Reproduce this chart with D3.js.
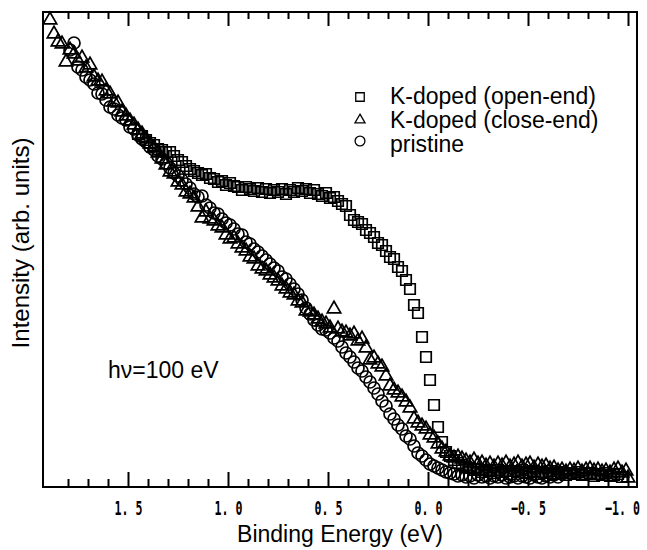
<!DOCTYPE html>
<html>
<head>
<meta charset="utf-8">
<script src="https://cdn.jsdelivr.net/npm/d3@7"></script>
<style>
body { margin: 0; background: #fff; }
svg { display: block; }
</style>
</head>
<body>
<svg id="chart" width="647" height="550"></svg>
<script>
// [binding energy (eV), intensity (arb.)]
var openEnd = [
	[1.45,70.6],[1.43,70.2],[1.41,69.4],[1.39,68.8],[1.37,68.4],[1.35,67.6],[1.33,67.4],[1.31,67.0],
	[1.29,67.0],[1.27,66.2],[1.25,65.4],[1.23,65.0],[1.21,64.2],[1.19,63.6],[1.17,63.2],[1.15,62.8],
	[1.13,62.4],[1.11,62.6],[1.09,61.8],[1.07,61.6],[1.05,61.0],[1.03,61.2],[1.01,60.4],[0.99,60.8],
	[0.97,60.2],[0.95,60.0],[0.93,59.4],[0.91,60.0],[0.89,59.6],[0.87,59.2],[0.85,59.8],[0.83,59.0],
	[0.81,59.6],[0.79,58.8],[0.77,59.4],[0.75,59.0],[0.73,59.6],[0.71,58.6],[0.69,59.4],[0.67,59.0],
	[0.65,59.8],[0.63,59.2],[0.61,59.6],[0.59,58.8],[0.57,59.4],[0.55,58.6],[0.53,58.2],[0.51,58.8],
	[0.49,57.8],[0.47,58.0],[0.45,57.2],[0.43,56.6],[0.41,56.2],[0.39,54.4],[0.37,53.4],[0.35,53.0],
	[0.33,52.6],[0.31,51.4],[0.29,50.8],[0.27,50.0],[0.25,48.8],[0.23,48.4],[0.21,47.2],[0.19,46.0],
	[0.17,45.6],[0.15,44.0],[0.13,43.2],[0.11,41.4],[0.09,39.6],[0.07,36.4],[0.05,34.8],[0.03,30.0],
	[0.01,26.0],[-0.01,21.4],[-0.03,16.4],[-0.05,12.0],[-0.07,9.0],[-0.09,7.0],[-0.11,6.2],[-0.13,5.4],
	[-0.15,4.8],[-0.17,4.4],[-0.19,4.0],[-0.21,3.8],[-0.23,3.4],[-0.25,3.6],[-0.27,3.0],[-0.29,3.4],
	[-0.31,3.2],[-0.33,2.8],[-0.35,3.4],[-0.37,3.0],[-0.39,3.2],[-0.41,2.6],[-0.43,3.2],[-0.45,3.0],
	[-0.47,3.4],[-0.49,2.8],[-0.51,3.0],[-0.53,3.2],[-0.55,2.6],[-0.57,3.0],[-0.59,2.8],[-0.61,3.2],
	[-0.63,2.6],[-0.65,2.8],[-0.67,3.0],[-0.69,2.4],[-0.71,2.8],[-0.73,2.6],[-0.75,3.0],[-0.77,2.4],
	[-0.79,2.6],[-0.81,2.8],[-0.83,2.2],[-0.85,2.6],[-0.87,2.4],[-0.89,2.8],[-0.91,2.2],[-0.93,2.4],
	[-0.95,2.6],[-0.97,2.0]
];

var closeEnd = [
	[1.89,93.4],[1.87,90.6],[1.85,89.0],[1.83,88.6],[1.81,85.0],[1.79,87.4],[1.77,86.6],[1.75,85.2],
	[1.73,85.8],[1.71,83.8],[1.69,84.4],[1.67,82.0],[1.65,81.2],[1.63,81.0],[1.61,79.2],[1.59,78.6],
	[1.57,77.0],[1.55,76.8],[1.53,75.0],[1.51,74.2],[1.49,73.2],[1.47,72.4],[1.45,71.4],[1.43,70.6],
	[1.41,69.6],[1.39,68.6],[1.37,67.8],[1.35,66.8],[1.33,65.6],[1.31,64.4],[1.29,63.0],[1.27,62.6],
	[1.25,61.0],[1.23,60.4],[1.21,59.0],[1.19,58.6],[1.17,57.8],[1.15,56.0],[1.13,53.8],[1.11,55.0],
	[1.09,53.6],[1.07,53.2],[1.05,52.2],[1.03,51.8],[1.01,50.4],[0.99,49.6],[0.97,49.8],[0.95,48.6],
	[0.93,47.8],[0.91,47.2],[0.89,46.0],[0.87,45.6],[0.85,44.2],[0.83,43.6],[0.81,43.2],[0.79,42.4],
	[0.77,41.8],[0.75,41.2],[0.73,40.2],[0.71,39.6],[0.69,38.8],[0.67,38.4],[0.65,37.2],[0.63,36.8],
	[0.61,35.2],[0.59,35.0],[0.57,34.4],[0.55,33.6],[0.53,33.0],[0.51,32.6],[0.49,31.8],[0.47,35.6],
	[0.45,31.6],[0.43,31.0],[0.41,30.8],[0.39,30.2],[0.37,30.6],[0.35,29.2],[0.33,29.6],[0.31,27.8],
	[0.29,25.4],[0.27,25.8],[0.25,24.6],[0.23,24.0],[0.21,22.2],[0.19,20.2],[0.17,19.4],[0.15,18.8],
	[0.13,18.0],[0.11,17.0],[0.09,15.8],[0.07,13.6],[0.05,12.8],[0.03,12.2],[0.01,11.6],[-0.01,10.4],
	[-0.03,9.8],[-0.05,8.6],[-0.07,7.6],[-0.09,7.0],[-0.11,6.2],[-0.13,5.8],[-0.15,6.0],[-0.17,5.6],
	[-0.19,5.2],[-0.21,4.8],[-0.23,5.4],[-0.25,4.6],[-0.27,4.8],[-0.29,4.2],[-0.31,4.6],[-0.33,4.0],
	[-0.35,4.6],[-0.37,4.2],[-0.39,4.8],[-0.41,4.0],[-0.43,4.4],[-0.45,4.8],[-0.47,4.0],[-0.49,4.4],
	[-0.51,4.6],[-0.53,3.8],[-0.55,4.4],[-0.57,4.0],[-0.59,4.2],[-0.61,3.6],[-0.63,3.8],[-0.65,3.2],
	[-0.67,3.4],[-0.69,3.0],[-0.71,3.4],[-0.73,3.2],[-0.75,3.6],[-0.77,3.0],[-0.79,3.4],[-0.81,3.6],
	[-0.83,3.2],[-0.85,3.4],[-0.87,3.0],[-0.89,3.2],[-0.91,2.8],[-0.93,3.4],[-0.95,3.6],[-0.97,2.8],
	[-0.99,3.2],[-1.00,1.8]
];

var pristine = [
	[1.79,87.4],[1.77,88.8],[1.75,84.0],[1.73,83.4],[1.71,82.0],[1.69,81.4],[1.67,80.6],[1.65,78.8],
	[1.63,78.6],[1.61,77.4],[1.59,76.0],[1.57,75.6],[1.55,74.4],[1.53,73.8],[1.51,73.4],[1.49,72.0],
	[1.47,71.6],[1.45,70.4],[1.43,69.6],[1.41,69.0],[1.39,68.0],[1.37,67.4],[1.35,66.2],[1.33,65.6],
	[1.31,64.8],[1.29,63.8],[1.27,62.8],[1.25,62.2],[1.23,61.4],[1.21,60.6],[1.19,59.8],[1.17,58.6],
	[1.15,58.0],[1.13,58.2],[1.11,56.4],[1.09,55.8],[1.07,54.8],[1.05,54.6],[1.03,53.6],[1.01,52.8],
	[0.99,52.4],[0.97,51.6],[0.95,50.6],[0.93,50.4],[0.91,49.0],[0.89,48.6],[0.87,47.6],[0.85,47.0],
	[0.83,46.2],[0.81,45.4],[0.79,44.6],[0.77,43.8],[0.75,43.2],[0.73,42.0],[0.71,41.6],[0.69,40.6],
	[0.67,39.6],[0.65,38.6],[0.63,37.4],[0.61,35.8],[0.59,34.6],[0.57,33.4],[0.55,32.4],[0.53,31.6],
	[0.51,31.4],[0.49,30.8],[0.47,29.8],[0.45,29.2],[0.43,28.0],[0.41,26.8],[0.39,26.0],[0.37,25.0],
	[0.35,23.8],[0.33,23.2],[0.31,22.0],[0.29,21.0],[0.27,19.8],[0.25,18.6],[0.23,17.2],[0.21,16.2],
	[0.19,14.6],[0.17,13.6],[0.15,12.4],[0.13,11.6],[0.11,10.2],[0.09,9.6],[0.07,8.2],[0.05,6.8],
	[0.03,6.2],[0.01,5.4],[-0.01,4.6],[-0.03,4.2],[-0.05,3.8],[-0.07,3.4],[-0.09,3.0],[-0.11,2.8],
	[-0.13,2.6],[-0.15,2.2],[-0.17,2.4],[-0.19,2.0],[-0.21,2.2],[-0.23,1.8],[-0.25,2.4],[-0.27,2.0],
	[-0.29,2.2],[-0.31,1.8],[-0.33,2.2],[-0.35,2.0],[-0.37,2.4],[-0.39,1.8],[-0.41,2.0],[-0.43,2.2],
	[-0.45,1.8],[-0.47,2.2],[-0.49,2.0],[-0.51,1.8],[-0.53,2.4],[-0.55,2.0],[-0.57,1.8],[-0.59,2.2],
	[-0.61,2.0],[-0.63,2.4],[-0.65,2.0],[-0.67,2.6]
];

var majorTicks = [1.5, 1.0, 0.5, 0.0, -0.5, -1.0];
var majorLabels = ['1. 5', '1. 0', '0. 5', '0. 0', '\u22120. 5', '\u22121. 0'];
var minorTicks = [1.8, 1.7, 1.6, 1.4, 1.3, 1.2, 1.1, 0.9, 0.8, 0.7, 0.6, 0.4, 0.3, 0.2, 0.1,
	-0.1, -0.2, -0.3, -0.4, -0.6, -0.7, -0.8, -0.9];
var legendNames = ['K-doped (open-end)', 'K-doped (close-end)', 'pristine'];

var sansFont = "'Liberation Sans', Arial, Helvetica, sans-serif";

var drawChart = function() {
	var svg = d3.select('#chart');

	var x0 = 43, x1 = 637, y0 = 487, y1 = 12;

	var xscale = d3.scaleLinear()
		.domain([1.925, -1.045])
		.range([x0, x1]);

	var yscale = d3.scaleLinear()
		.domain([0, 95])
		.range([y0, y1]);

	// ticks, all pointing inward
	var bottomMinor = svg.append('g')
		.attr('transform', 'translate(0,' + y0 + ')')
		.call(d3.axisBottom(xscale).tickValues(minorTicks).tickSize(-8).tickFormat(''));

	var bottomMajor = svg.append('g')
		.attr('transform', 'translate(0,' + y0 + ')')
		.call(d3.axisBottom(xscale).tickValues(majorTicks).tickSize(-15)
			.tickFormat((d, i) => majorLabels[i]));

	var topMinor = svg.append('g')
		.attr('transform', 'translate(0,' + y1 + ')')
		.call(d3.axisTop(xscale).tickValues(minorTicks).tickSize(-7).tickFormat(''));

	var topMajor = svg.append('g')
		.attr('transform', 'translate(0,' + y1 + ')')
		.call(d3.axisTop(xscale).tickValues(majorTicks).tickSize(-14).tickFormat(''));

	[bottomMinor, bottomMajor, topMinor, topMajor].forEach(function(g) {
		g.select('.domain').remove();
		g.selectAll('.tick line')
			.attr('stroke', '#000')
			.attr('stroke-width', 2);
	});

	// narrow, tall digits like the original: small mono font stretched upward
	var sx = 0.83, sy = 1.45;
	var labelShift = [0, 0, 0, 0, 0, -6];
	bottomMajor.selectAll('.tick text')
		.attr('transform', 'scale(' + sx + ',' + sy + ')')
		.attr('y', 28 / sy)
		.attr('dy', null)
		.attr('dx', (d, i) => labelShift[i] / sx)
		.attr('fill', '#000')
		.style('font-family', "'DejaVu Sans Mono', monospace")
		.style('font-weight', 'bold')
		.style('font-size', '14px');

	svg.append('rect')
		.attr('x', x0)
		.attr('y', y1)
		.attr('width', x1 - x0)
		.attr('height', y0 - y1)
		.attr('fill', 'none')
		.attr('stroke', '#000')
		.attr('stroke-width', 2);

	// markers
	var square = d3.symbol().type(d3.symbolSquare).size(110);
	var triangle = d3.symbol().type(d3.symbolTriangle).size(78);

	var marks = svg.append('g')
		.attr('fill', 'none')
		.attr('stroke', '#000')
		.attr('stroke-width', 1.7);

	marks.selectAll('.sq')
		.data(openEnd)
		.enter()
		.append('path')
		.attr('class', 'sq')
		.attr('d', square)
		.attr('transform', d => 'translate(' + xscale(d[0]) + ',' + yscale(d[1]) + ')');

	marks.selectAll('.tri')
		.data(closeEnd)
		.enter()
		.append('path')
		.attr('class', 'tri')
		.attr('d', triangle)
		.attr('transform', d => 'translate(' + xscale(d[0]) + ',' + yscale(d[1]) + ')');

	marks.selectAll('.circ')
		.data(pristine)
		.enter()
		.append('circle')
		.attr('class', 'circ')
		.attr('cx', d => xscale(d[0]))
		.attr('cy', d => yscale(d[1]))
		.attr('r', 6);

	// legend
	var legend = svg.append('g');
	var legendSyms = [
		d3.symbol().type(d3.symbolSquare).size(72),
		d3.symbol().type(d3.symbolTriangle).size(44),
		d3.symbol().type(d3.symbolCircle).size(76)
	];
	var legendMarkY = [97, 120, 141];
	var legendTextY = [104, 128, 152];

	legendNames.forEach(function(name, i) {
		legend.append('path')
			.attr('d', legendSyms[i])
			.attr('transform', 'translate(360,' + legendMarkY[i] + ')')
			.attr('fill', 'none')
			.attr('stroke', '#000')
			.attr('stroke-width', 1.3);
		legend.append('text')
			.attr('x', 390)
			.attr('y', legendTextY[i])
			.style('font-family', sansFont)
			.style('font-size', '23px')
			.text(name);
	});

	svg.append('text')
		.attr('x', 108)
		.attr('y', 378)
		.style('font-family', sansFont)
		.style('font-size', '23px')
		.text('h\u03bd=100 eV');

	svg.append('text')
		.attr('x', 340)
		.attr('y', 542)
		.attr('text-anchor', 'middle')
		.style('font-family', sansFont)
		.style('font-size', '23px')
		.text('Binding Energy (eV)');

	svg.append('text')
		.attr('transform', 'translate(29,243) rotate(-90)')
		.attr('text-anchor', 'middle')
		.style('font-family', sansFont)
		.style('font-size', '24px')
		.text('Intensity (arb. units)');
}

drawChart();
</script>
</body>
</html>
